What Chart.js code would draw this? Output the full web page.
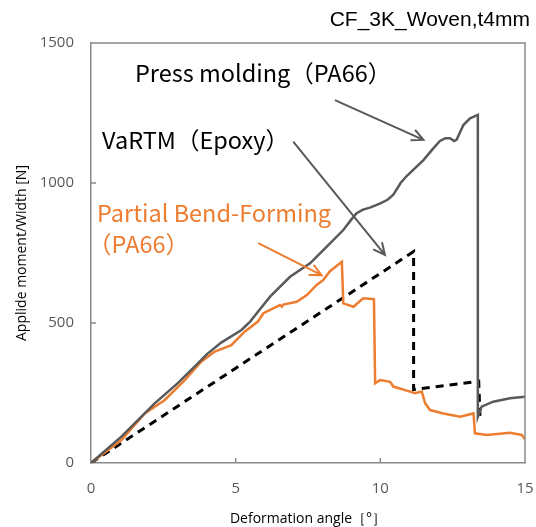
<!DOCTYPE html>
<html>
<head>
<meta charset="utf-8">
<script src="https://cdn.jsdelivr.net/npm/chart.js@4"></script>
<style>
  html, body { margin: 0; padding: 0; background: #fff; }
  #wrap { width: 536px; height: 527px; }
</style>
</head>
<body>
<div id="wrap"><canvas id="momentChart" width="536" height="527"></canvas></div>
<script>
// Press molding (PA66)
const pressX = [0, 1.05, 2.2, 3.0, 3.58, 4.0, 4.5, 5.2, 5.5, 5.77, 6.19, 6.88, 7.57, 8.15, 8.72, 9.0, 9.18, 9.4, 9.64, 10.0, 10.25, 10.45, 10.7, 10.91, 11.49, 11.8, 12.06, 12.25, 12.41, 12.55, 12.64, 12.87, 13.1, 13.37, 13.37, 13.5, 13.9, 14.48, 15];
const pressY = [0, 94, 213, 285, 344, 388, 430, 475, 505, 540, 594, 665, 713, 773, 832, 870, 892, 905, 912, 927, 940, 958, 1000, 1025, 1082, 1120, 1150, 1160, 1160, 1150, 1155, 1207, 1231, 1243, 165, 201, 219, 231, 237];

// Partial Bend-Forming (PA66)
const bendX = [0, 1.05, 1.86, 2.55, 3.24, 3.81, 4.28, 4.85, 5.31, 5.77, 5.96, 6.53, 6.6, 6.65, 7.11, 7.46, 7.8, 8.03, 8.26, 8.67, 8.72, 9.07, 9.41, 9.78, 9.82, 9.99, 10.34, 10.45, 11.03, 11.2, 11.43, 11.55, 11.72, 12.18, 12.76, 13.22, 13.27, 13.68, 14.48, 14.89, 15];
const bendY = [0, 82, 177, 225, 296, 362, 398, 421, 469, 505, 535, 564, 558, 566, 576, 600, 636, 654, 685, 719, 570, 558, 588, 585, 285, 296, 290, 273, 255, 249, 255, 213, 189, 177, 165, 177, 106, 100, 108, 100, 85];

// VaRTM (Epoxy)
const vartmX = [0, 11.15, 11.15, 13.4, 13.45];
const vartmY = [0, 755, 262, 292, 150];

const xTicks = [0, 5, 10, 15];
const yTicks = [0, 500, 1000, 1500];

// annotation arrows in data units
const arrows = [
  { from: [8.43, 1296], to: [11.49, 1154], color: '#595959' },
  { from: [6.99, 1148], to: [10.16, 743], color: '#595959' },
  { from: [5.78, 785], to: [7.97, 671], color: '#ED7D31' }
];
const labels = [
  { text: 'Press molding（PA66）', at: [1.52, 1393], color: '#000000' },
  { text: 'VaRTM（Epoxy）', at: [0.38, 1154], color: '#000000' },
  { text: 'Partial Bend-Forming', at: [0.21, 893], color: '#ED7D31' },
  { text: '（PA66）', at: [-0.1, 782], color: '#ED7D31' }
];

const toPoints = (xs, ys) => xs.map((x, i) => ({ x: x, y: ys[i] }));

const decorPlugin = {
  id: 'decor',
  afterDatasetsDraw(chart) {
    const ctx = chart.ctx;
    const a = chart.chartArea;
    const xs = chart.scales.x, ys = chart.scales.y;
    ctx.save();
    // frame top/right
    ctx.strokeStyle = '#898989';
    ctx.lineWidth = 1.5;
    ctx.beginPath();
    ctx.moveTo(a.left, a.top);
    ctx.lineTo(a.right, a.top);
    ctx.lineTo(a.right, a.bottom);
    ctx.stroke();
    // inner ticks
    ctx.beginPath();
    xTicks.slice(1, -1).forEach(v => {
      const p = xs.getPixelForValue(v);
      ctx.moveTo(p, a.bottom);
      ctx.lineTo(p, a.bottom - 5);
    });
    yTicks.slice(1, -1).forEach(v => {
      const p = ys.getPixelForValue(v);
      ctx.moveTo(a.left, p);
      ctx.lineTo(a.left + 5, p);
    });
    ctx.stroke();

    // arrows
    arrows.forEach(ar => {
      const x1 = xs.getPixelForValue(ar.from[0]), y1 = ys.getPixelForValue(ar.from[1]);
      const x2 = xs.getPixelForValue(ar.to[0]), y2 = ys.getPixelForValue(ar.to[1]);
      const ang = Math.atan2(y2 - y1, x2 - x1);
      const h = 13;
      ctx.strokeStyle = ar.color;
      ctx.lineWidth = 2;
      ctx.beginPath();
      ctx.moveTo(x1, y1);
      ctx.lineTo(x2, y2);
      ctx.moveTo(x2 - h * Math.cos(ang - 0.45), y2 - h * Math.sin(ang - 0.45));
      ctx.lineTo(x2, y2);
      ctx.lineTo(x2 - h * Math.cos(ang + 0.45), y2 - h * Math.sin(ang + 0.45));
      ctx.stroke();
    });

    // labels
    ctx.font = '23.5px "Noto Sans CJK JP"';
    ctx.textBaseline = 'middle';
    ctx.textAlign = 'left';
    labels.forEach(l => {
      ctx.fillStyle = l.color;
      ctx.fillText(l.text, xs.getPixelForValue(l.at[0]), ys.getPixelForValue(l.at[1]));
    });

    // title
    ctx.fillStyle = '#000';
    ctx.font = '21px "Liberation Sans"';
    ctx.textAlign = 'right';
    ctx.fillText('CF_3K_Woven,t4mm', 530, 20);
    ctx.restore();
  }
};

const ctx = document.getElementById('momentChart').getContext('2d');
new Chart(ctx, {
  type: 'line',
  data: {
    datasets: [
      {
        label: 'Press molding (PA66)',
        data: toPoints(pressX, pressY),
        borderColor: '#595959',
        borderWidth: 2.5,
        pointRadius: 0,
        tension: 0
      },
      {
        label: 'Partial Bend-Forming (PA66)',
        data: toPoints(bendX, bendY),
        borderColor: '#ED7D31',
        borderWidth: 2.5,
        pointRadius: 0,
        tension: 0
      },
      {
        label: 'VaRTM (Epoxy)',
        data: toPoints(vartmX, vartmY),
        borderColor: '#000000',
        borderWidth: 3,
        borderDash: [8, 6],
        pointRadius: 0,
        tension: 0
      }
    ]
  },
  options: {
    responsive: false,
    animation: false,
    layout: { padding: { left: 14, right: 11, top: 43, bottom: 0 } },
    plugins: {
      legend: { display: false },
      tooltip: { enabled: false }
    },
    scales: {
      x: {
        type: 'linear',
        min: 0,
        max: 15,
        afterBuildTicks: s => { s.ticks = xTicks.map(v => ({ value: v })); },
        afterFit: s => { s.height = 64; s.paddingLeft = 0; s.paddingRight = 0; },
        grid: { drawOnChartArea: false, drawTicks: false },
        border: { color: '#898989', width: 1.5 },
        ticks: { color: '#595959', font: { family: 'Open Sans', size: 15 }, padding: 17, callback: v => v },
        title: {
          display: true,
          text: 'Deformation angle［°］',
          color: '#000',
          font: { family: 'Open Sans', size: 14 },
          padding: { top: 0, bottom: 0 }
        }
      },
      y: {
        min: 0,
        max: 1500,
        afterBuildTicks: s => { s.ticks = yTicks.map(v => ({ value: v })); },
        afterFit: s => { s.width = 77; s.paddingTop = 0; s.paddingBottom = 0; },
        grid: { drawOnChartArea: false, drawTicks: false },
        border: { color: '#898989', width: 1.5 },
        ticks: { color: '#595959', font: { family: 'Open Sans', size: 15 }, padding: 17, callback: v => v },
        title: {
          display: true,
          text: 'Applide moment/Width [N]',
          color: '#000',
          font: { family: 'Open Sans', size: 14 },
          padding: { top: 0, bottom: 0 }
        }
      }
    }
  },
  plugins: [decorPlugin]
});
</script>
</body>
</html>
